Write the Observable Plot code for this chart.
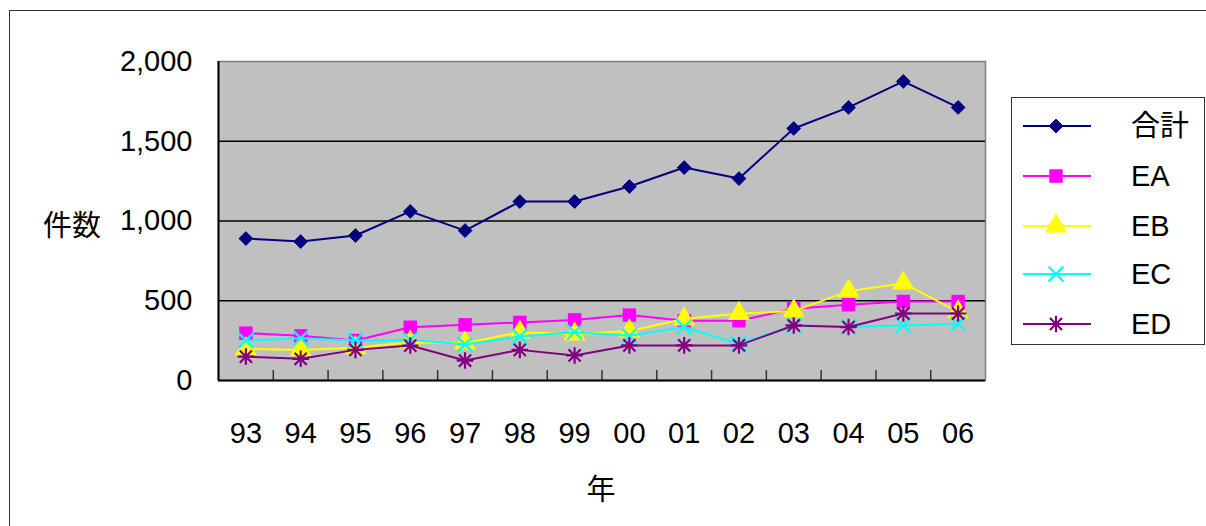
<!DOCTYPE html>
<html>
<head>
<meta charset="utf-8">
<script src="https://cdn.jsdelivr.net/npm/d3@7"></script>
<script src="https://cdn.jsdelivr.net/npm/@observablehq/plot@0.6"></script>
<style>
  html, body { margin: 0; padding: 0; background: #fff; overflow: hidden; }
  #wrap { position: relative; width: 1206px; height: 526px; font-family: "Liberation Sans", "Noto Sans CJK JP", sans-serif; }
  #frame { position: absolute; left: 9px; top: 10px; width: 1210px; height: 530px; border: 1.5px solid #333; box-sizing: border-box; }
  #chart { position: absolute; left: 0; top: 0; }
  .lbl { position: absolute; font-size: 29px; color: #000; transform: translate(-50%, -50%); white-space: nowrap; font-family: "Noto Sans CJK JP", "Liberation Sans", sans-serif; }
  #legend { position: absolute; left: 1011px; top: 97px; width: 194px; height: 248px; border: 1.5px solid #333; box-sizing: border-box; background: #fff; }
</style>
</head>
<body>
<div id="wrap">
  <div id="frame"></div>
  <div id="chart"></div>
  <div class="lbl" style="left:72px; top:223px;">件数</div>
  <div class="lbl" style="left:601px; top:487px;">年</div>
  <div id="legend"></div>
</div>
<script>
const years = ["93","94","95","96","97","98","99","00","01","02","03","04","05","06"];
const seriesNames = ["合計", "EA", "EB", "EC", "ED"];
const total = [890, 871, 909, 1060, 940, 1122, 1122, 1216, 1335, 1266, 1580, 1712, 1875, 1712];
const ea = [297, 280, 251, 334, 349, 364, 380, 410, 375, 375, 450, 475, 495, 495];
const eb = [199, 192, 205, 240, 234, 303, 290, 310, 385, 420, 435, 560, 610, 430];
const ec = [251, 265, 251, 255, 226, 276, 303, 280, 335, 230, 345, 335, 345, 355];
const ed = [150, 136, 192, 219, 125, 192, 157, 220, 220, 220, 345, 335, 420, 420];
const yTicks = [0, 500, 1000, 1500, 2000];

const colors = ["#000080", "#FF00FF", "#FFFF00", "#00FFFF", "#800080"];
const valuesList = [total, ea, eb, ec, ed];

const rows = (vals) => vals.map((v, i) => ({i, v}));
const boundaries = years.slice(1).map((_, i) => i + 0.5);

const W = 1206, H = 526, mL = 218, mR = 221, mT = 61, mB = 146;
const plotH = H - mT - mB;

const marks = [
  Plot.frame({fill: "#C0C0C0", stroke: "#808080", strokeWidth: 1.5}),
  Plot.ruleY(yTicks.slice(1, -1), {stroke: "#000", strokeWidth: 1.5}),
  Plot.ruleX(boundaries, {stroke: "#333", strokeWidth: 1.5, insetTop: plotH - 10}),
  Plot.ruleY([yTicks[0]], {stroke: "#000", strokeWidth: 2}),
  Plot.ruleX([-0.5], {stroke: "#000", strokeWidth: 2}),
  Plot.axisY({ticks: yTicks, tickSize: 0, tickPadding: 26, tickFormat: d3.format(","), fontSize: 29, label: null}),
  Plot.axisX({ticks: d3.range(years.length), tickSize: 0, tickPadding: 42, tickFormat: i => years[i], fontSize: 29, label: null})
];

const symSpecs = [
  [{symbol: "diamond2", r: 6.2, fill: colors[0], stroke: colors[0], strokeWidth: 1}],
  [{symbol: "square", r: 7.6, fill: colors[1], stroke: "none"}],
  [{symbol: "triangle", r: 8.2, fill: colors[2], stroke: "none"}],
  [{symbol: "times", r: 6.8, fill: "none", stroke: colors[3], strokeWidth: 2.2}],
  [{symbol: "times", r: 5.6, fill: "none", stroke: colors[4], strokeWidth: 2.2}, {symbol: "plus", r: 5.4, fill: "none", stroke: colors[4], strokeWidth: 2.2}]
];

valuesList.forEach((vals, k) => {
  const data = rows(vals);
  marks.push(Plot.line(data, {x: "i", y: "v", stroke: colors[k], strokeWidth: 2}));
  symSpecs[k].forEach(s => marks.push(Plot.dot(data, {x: "i", y: "v", ...s})));
});

const chart = Plot.plot({
  width: W, height: H,
  marginLeft: mL, marginRight: mR, marginTop: mT, marginBottom: mB,
  style: {background: "transparent", fontFamily: "'Liberation Sans', 'Noto Sans CJK JP', sans-serif", fontSize: "29px", color: "#000"},
  x: {type: "linear", domain: [-0.5, years.length - 0.5], axis: null},
  y: {domain: [yTicks[0], yTicks[yTicks.length - 1]], axis: null},
  marks
});
document.getElementById("chart").appendChild(chart);

// Legend
const leg = d3.select("#legend").append("svg").attr("width", 191).attr("height", 245)
  .style("position", "absolute").style("left", "0").style("top", "0");
const rowY = [28, 78, 128, 176, 226];
const symMap = {diamond2: d3.symbolDiamond2, square: d3.symbolSquare, triangle: d3.symbolTriangle, times: d3.symbolTimes, plus: d3.symbolPlus};
seriesNames.forEach((name, k) => {
  const g = leg.append("g").attr("transform", `translate(0,${rowY[k]})`);
  g.append("line").attr("x1", 11).attr("x2", 79).attr("y1", 0).attr("y2", 0).attr("stroke", colors[k]).attr("stroke-width", 2);
  symSpecs[k].forEach(s => {
    g.append("path").attr("transform", "translate(44,0)")
      .attr("d", d3.symbol(symMap[s.symbol], Math.PI * s.r * s.r)())
      .attr("fill", s.fill).attr("stroke", s.stroke).attr("stroke-width", s.strokeWidth || 0);
  });
  g.append("text").attr("x", 119).attr("y", 0).attr("dy", "0.36em")
    .attr("font-size", 29)
    .attr("font-family", "'Liberation Sans', 'Noto Sans CJK JP', sans-serif")
    .text(name);
});
</script>
</body>
</html>
